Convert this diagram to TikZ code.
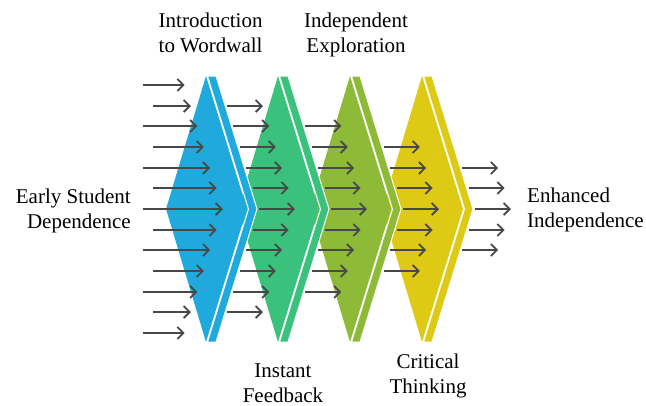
\documentclass[tikz,border=0pt]{standalone}
\usepackage{fontspec}
\setmainfont{Liberation Serif}
\usetikzlibrary{arrows.meta}

\definecolor{stageblue}{HTML}{20A9DC}
\definecolor{stagegreen}{HTML}{3AC27D}
\definecolor{stageolive}{HTML}{8DBB38}
\definecolor{stageyellow}{HTML}{DEC914}
\definecolor{flowgray}{HTML}{484848}

\tikzset{
  stagetext/.style={font=\fontsize{21}{25}\selectfont, inner sep=0pt, align=center},
  flow/.style={draw=flowgray, line width=1.8pt, -{Straight Barb[length=6pt,width=12pt]}},
  stripe/.style={draw=white, line width=1pt}
}

\begin{document}
\begin{tikzpicture}[x=1pt,y=-1pt]
\useasboundingbox (0,0) rectangle (646,405);

% stages, back to front
\foreach \c/\i in {stageyellow/3,stageolive/2,stagegreen/1,stageblue/0} {
  \begin{scope}[xshift=\i*72pt]
    \fill[\c] (166,209) -- (206,76) -- (247,209) -- (206,342) -- cycle;
    \filldraw[\c, stripe] (207.5,76) -- (216,76) -- (257,209) -- (216,342) -- (207.5,342) -- (248.5,209) -- cycle;
  \end{scope}
}

% arrows
\foreach \j in {0,...,4} {
  \pgfmathtruncatemacro\klo{\j}
  \pgfmathtruncatemacro\khi{12-\j}
  \foreach \k in {\klo,...,\khi} {
    \pgfmathsetmacro\yy{round(209+(\k-6)*20.7)}
    \pgfmathsetmacro\tx{223+72*\j-6.4*abs(\k-6)}
    \pgfmathsetmacro\sx{ifthenelse(\j==0, 143+10*mod(\k,2), \tx-36)}
    \coordinate (s\j-\k) at (\sx,\yy);
    \coordinate (t\j-\k) at (\tx,\yy);
    \draw[flow] (s\j-\k) -- (t\j-\k);
  }
}

% labels
\node[stagetext, align=right, anchor=east] (early) at (131,210.5) {Early Student\\Dependence};
\node[stagetext, align=left, anchor=west] (enhanced) at (527,210) {Enhanced\\Independence};
\node[stagetext] (intro) at (210.6,32.5) {Introduction\\to Wordwall};
\node[stagetext] (explore) at (356,35) {Independent\\Exploration};
\node[stagetext] (feedback) at (283,383.5) {Instant\\Feedback};
\node[stagetext] (critical) at (428,375.5) {Critical\\Thinking};
\end{tikzpicture}
\end{document}
